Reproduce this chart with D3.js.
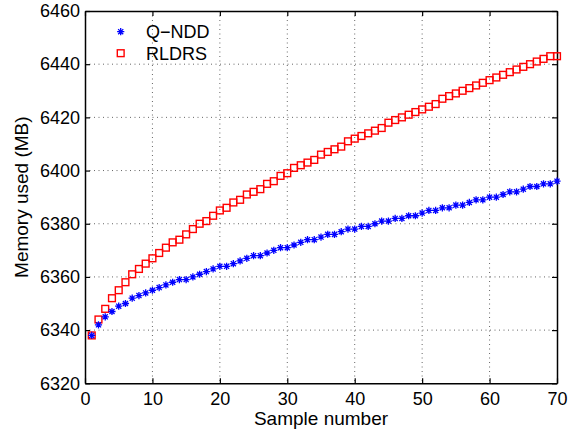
<!DOCTYPE html>
<html>
<head>
<meta charset="utf-8">
<script src="https://cdn.jsdelivr.net/npm/d3@7"></script>
<style>
  html, body { margin: 0; padding: 0; background: #fff; }
  svg { display: block; }
  text { font-family: "Liberation Sans", Arial, Helvetica, sans-serif; fill: #000; }
</style>
</head>
<body>
<svg id="chart" width="574" height="431"></svg>
<script>
const sampleNumbers = d3.range(1, 71);
const qnddValues = [
  6338, 6342, 6345, 6347, 6349, 6350, 6352, 6353, 6354, 6355,
  6356, 6357, 6358, 6359, 6359, 6360, 6361, 6362, 6363, 6364,
  6364, 6365, 6366, 6367, 6368, 6368, 6369, 6370, 6371, 6371,
  6372, 6373, 6374, 6374, 6375, 6376, 6376, 6377, 6378, 6378,
  6379, 6379, 6380, 6381, 6381, 6382, 6382, 6383, 6383, 6384,
  6385, 6385, 6386, 6386, 6387, 6387, 6388, 6389, 6389, 6390,
  6390, 6391, 6392, 6392, 6393, 6394, 6394, 6395, 6395, 6396
];
const rldrsValues = [
  6338, 6344, 6348, 6352, 6355, 6358, 6361, 6363, 6365, 6367,
  6369, 6371, 6373, 6374, 6376, 6378, 6380, 6381, 6383, 6385,
  6386, 6388, 6389, 6391, 6392, 6393, 6395, 6396, 6398, 6399,
  6401, 6402, 6403, 6404, 6406, 6407, 6408, 6409, 6411, 6412,
  6413, 6414, 6415, 6416, 6418, 6419, 6420, 6421, 6422, 6423,
  6424, 6425, 6427, 6428, 6429, 6430, 6431, 6432, 6433, 6434,
  6435, 6436, 6437, 6438, 6439, 6440, 6441, 6442, 6443, 6443
];
const xTicks = [0, 10, 20, 30, 40, 50, 60, 70];
const yTicks = [6320, 6340, 6360, 6380, 6400, 6420, 6440, 6460];
const seriesNames = ["Q\u2212NDD", "RLDRS"];
const xLabel = "Sample number";
const yLabel = "Memory used (MB)";

const svg = d3.select("#chart");
const pLeft = 85, pRight = 557, pTop = 11, pBottom = 383.3;

const x = d3.scaleLinear().domain([0, 70]).range([pLeft, pRight]);
const y = d3.scaleLinear().domain([6320, 6460]).range([pBottom, pTop]);

// grid
const grid = svg.append("g");
grid.selectAll(".gx").data(xTicks.slice(1, -1)).enter().append("line")
  .attr("x1", d => x(d)).attr("x2", d => x(d)).attr("y1", pTop).attr("y2", pBottom)
  .attr("stroke", "#666").attr("stroke-width", 1).attr("stroke-dasharray", "1,3.5");
grid.selectAll(".gy").data(yTicks.slice(1, -1)).enter().append("line")
  .attr("y1", d => y(d)).attr("y2", d => y(d)).attr("x1", pLeft).attr("x2", pRight)
  .attr("stroke", "#666").attr("stroke-width", 1).attr("stroke-dasharray", "1,3.5");

// axes (inward ticks, MATLAB style)
const tickLen = 5;
const axB = svg.append("g").attr("transform", `translate(0,${pBottom})`)
  .call(d3.axisBottom(x).tickValues(xTicks).tickSizeInner(-tickLen).tickSizeOuter(0).tickPadding(9));
const axT = svg.append("g").attr("transform", `translate(0,${pTop})`)
  .call(d3.axisTop(x).tickValues(xTicks).tickSizeInner(-tickLen).tickSizeOuter(0).tickFormat(""));
const axL = svg.append("g").attr("transform", `translate(${pLeft},0)`)
  .call(d3.axisLeft(y).tickValues(yTicks).tickSizeInner(-tickLen).tickSizeOuter(0).tickPadding(5).tickFormat(d3.format("d")));
const axR = svg.append("g").attr("transform", `translate(${pRight},0)`)
  .call(d3.axisRight(y).tickValues(yTicks).tickSizeInner(-tickLen).tickSizeOuter(0).tickFormat(""));
[axB, axT, axL, axR].forEach(a => {
  a.select(".domain").attr("stroke", "#000").attr("stroke-width", 1.5);
  a.selectAll(".tick line").attr("stroke", "#000").attr("stroke-width", 1.2);
  a.selectAll("text").attr("font-size", 18).attr("font-family", "Liberation Sans, Arial, sans-serif").attr("fill", "#000");
});

// star symbol path (MATLAB '*')
function starPath(r) {
  const d = r * Math.SQRT1_2;
  return `M${-r},0L${r},0M0,${-r}L0,${r}M${-d},${-d}L${d},${d}M${-d},${d}L${d},${-d}`;
}

// RLDRS squares
const sq = 6.8;
svg.append("g").selectAll("rect").data(sampleNumbers).enter().append("rect")
  .attr("x", (d) => x(d) - sq / 2)
  .attr("y", (d, i) => y(rldrsValues[i]) - sq / 2)
  .attr("width", sq).attr("height", sq)
  .attr("fill", "none").attr("stroke", "#ff0000").attr("stroke-width", 1.4);

// Q-NDD stars
svg.append("g").selectAll("path").data(sampleNumbers).enter().append("path")
  .attr("transform", (d, i) => `translate(${x(d)},${y(qnddValues[i])})`)
  .attr("d", starPath(3.6))
  .attr("fill", "none").attr("stroke", "#0000ff").attr("stroke-width", 1.3);

// legend
const lg = svg.append("g");
lg.append("path").attr("transform", "translate(120.7,31.7)").attr("d", starPath(3.6))
  .attr("fill", "none").attr("stroke", "#0000ff").attr("stroke-width", 1.3);
lg.append("rect").attr("x", 120.7 - sq / 2).attr("y", 53.2 - sq / 2).attr("width", sq).attr("height", sq)
  .attr("fill", "none").attr("stroke", "#ff0000").attr("stroke-width", 1.4);
lg.append("text").attr("x", 146).attr("y", 31.7).attr("dy", "0.35em").attr("font-size", 18).text(seriesNames[0]);
lg.append("text").attr("x", 146).attr("y", 53.2).attr("dy", "0.35em").attr("font-size", 18).text(seriesNames[1]);

// axis labels
svg.append("text").attr("x", (pLeft + pRight) / 2).attr("y", 425).attr("text-anchor", "middle")
  .attr("font-size", 19).text(xLabel);
svg.append("text").attr("transform", `translate(28,${(pTop + pBottom) / 2}) rotate(-90)`)
  .attr("text-anchor", "middle").attr("font-size", 19).text(yLabel);
</script>
</body>
</html>
